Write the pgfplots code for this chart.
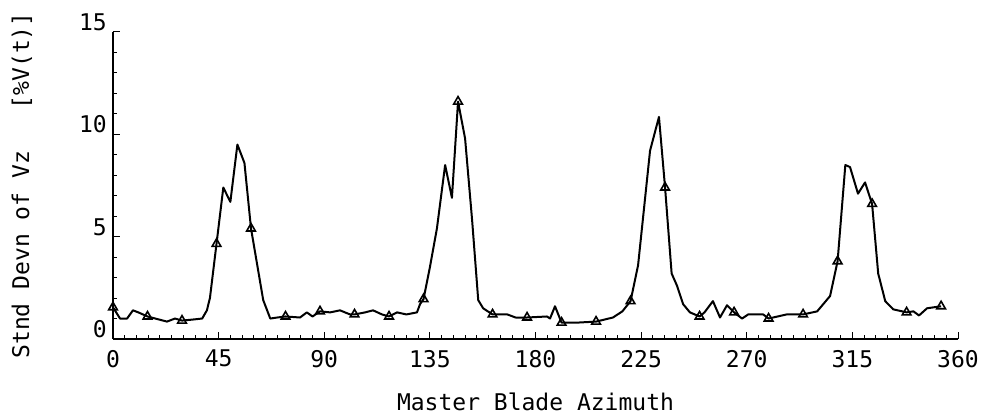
\documentclass[border=0pt]{standalone}
\usepackage{fontspec}
\setmainfont{DejaVu Sans Mono}
\usepackage{pgfplots}
\pgfplotsset{compat=1.18}
\begin{document}
\begin{tikzpicture}
\path[use as bounding box] (-113pt,-80pt) rectangle (869pt,339pt);
\begin{axis}[at={(0,0)}, anchor=south west, scale only axis,
  width=845pt, height=307pt,
  xmin=0, xmax=360, ymin=0, ymax=15,
  axis x line*=bottom, axis y line*=left,
  xtick={0,45,...,360}, ytick={0,5,10,15},
  minor x tick num=8, minor y tick num=4,
  tick align=inside, major tick length=7pt, minor tick length=4pt,
  tick style={line width=1pt, black},
  axis line style={line width=1.6pt, black},
  /pgf/number format/assume math mode=true,
  ticklabel style={font=\fontsize{23}{27}\selectfont},
  xticklabel style={anchor=north, inner sep=1pt, yshift=-10pt},
  yticklabel style={anchor=south east, inner sep=1pt, xshift=-5pt},
  xlabel={Master Blade Azimuth},
  ylabel={Stnd Devn of Vz\ \ \ [\%V(t)]},
  label style={font=\fontsize{23}{27}\selectfont},
  xlabel style={at={(axis description cs:0.5,0)}, anchor=north, inner sep=0pt, yshift=-54pt},
  ylabel style={at={(axis description cs:-0.1077,0.5)}, anchor=center, inner sep=0pt},
  clip=false,
]
\addplot[black, line width=2pt, no marks, line join=round] coordinates {
(0,1.55) (3,1.0) (6,1.0) (8.5,1.4) (10.8,1.3) (14.7,1.1) (18,1.0) (23,0.85) (26.4,1.0) (29.4,0.9)
(34,0.95) (38,1.0) (40,1.4) (41.3,2.0) (44.1,4.65) (47,7.4) (50,6.7) (53,9.5) (56,8.6) (58.8,5.4)
(64,1.9) (67,1.0) (70,1.05) (73.5,1.1) (79.7,1.05) (82.6,1.3) (85,1.1) (88.2,1.35) (92.5,1.3) (96.7,1.4)
(101,1.2) (102.9,1.2) (107.4,1.3) (110.8,1.4) (114.6,1.2) (117.6,1.1) (121,1.3) (125,1.2) (129.5,1.3) (130.8,1.7)
(132.3,1.95) (135,3.5) (138,5.4) (141.5,8.5) (144.4,6.9) (147.0,11.6) (150,9.8) (153,5.8) (155.6,1.9) (157.7,1.5)
(161.7,1.2) (168,1.2) (171.5,1.05) (176.4,1.05) (184.9,1.1) (186.2,1.0) (188.3,1.6) (191.1,0.8) (197.7,0.8) (205.8,0.85)
(213,1.05) (217,1.35) (220.5,1.85) (223.7,3.6) (228.8,9.2) (232.6,10.85) (235.2,7.4) (238,3.2) (240.3,2.6) (242.9,1.7)
(245.8,1.3) (249.9,1.1) (252,1.3) (255.6,1.85) (258.6,1.05) (261.6,1.65) (264.6,1.3) (268,1.0) (270.6,1.2) (277,1.2)
(279.3,1.0) (287,1.2) (294.0,1.2) (300,1.35) (305.5,2.1) (308.7,3.8) (312,8.5) (314,8.4) (317.4,7.1) (320.4,7.65)
(323.4,6.6) (326,3.2) (329,1.85) (332.4,1.45) (338.1,1.3) (341,1.35) (343.4,1.15) (346.8,1.5) (352.8,1.6)
};
\addplot[black, line width=1.6pt, only marks, mark=triangle, mark size=5pt, mark options={fill=white}] coordinates {
(0,1.55) (14.7,1.1) (29.4,0.9) (44.1,4.65) (58.8,5.4) (73.5,1.1) (88.2,1.35) (102.9,1.2) (117.6,1.1) (132.3,1.95)
(147.0,11.6) (161.7,1.2) (176.4,1.05) (191.1,0.8) (205.8,0.85) (220.5,1.85) (235.2,7.4) (249.9,1.1) (264.6,1.3) (279.3,1.0)
(294.0,1.2) (308.7,3.8) (323.4,6.6) (338.1,1.3) (352.8,1.6)
};
\end{axis}
\end{tikzpicture}
\end{document}
